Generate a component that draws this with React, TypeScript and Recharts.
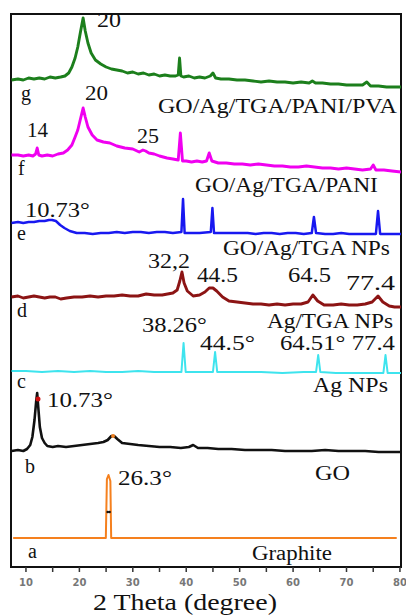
/* XRD patterns a–g, stacked with offsets */
import { ComposedChart, Line, XAxis, YAxis, ReferenceDot, ReferenceArea } from 'recharts';

// g: GO/Ag/TGA/PANI/PVA
const gTheta = [7.3, 8.5, 9.5, 10.5, 11.5, 12.5, 13.5, 14.5, 15.5, 16.5, 17.3, 18, 18.6, 19.2, 19.7, 20.2, 20.7, 21.1, 21.6, 22.2, 23, 24, 25, 26, 27, 28, 29, 30, 31, 32, 33, 34, 35, 36, 37, 38, 38.5, 38.75, 39, 39.5, 40.5, 41.5, 42.5, 43.5, 44.5, 45, 45.5, 46.5, 48, 49.5, 51, 52.5, 54, 55.5, 57, 58.5, 60, 61.5, 63, 63.6, 64.2, 65.5, 67, 68.5, 70, 71.5, 73, 73.8, 74.5, 76, 77.5, 79, 80.2];
const gCounts = [487, 488, 487, 489, 488, 489, 488, 490, 489, 490, 491, 494, 500, 509, 520, 535, 549, 536, 524, 514, 507, 503, 500, 498, 497, 496, 494, 495, 493, 494, 492, 493, 491, 492, 491, 491, 492, 509, 491, 490, 491, 489, 490, 489, 491, 494, 489, 488, 488, 487, 487, 486, 485, 486, 485, 485, 484, 485, 484, 486, 484, 484, 483, 483, 482, 482, 482, 485, 481, 481, 480, 480, 480];

// f: GO/Ag/TGA/PANI
const fTheta = [7.3, 8.5, 9.5, 10.5, 11.3, 11.8, 12.1, 12.4, 13, 14, 15, 16, 17, 17.8, 18.6, 19.2, 19.7, 20.2, 20.7, 21.1, 21.6, 22.4, 23.3, 24.5, 25.7, 27, 28.5, 30, 31.2, 31.9, 32.4, 33, 34, 35, 36.4, 37.5, 38.5, 38.9, 39.3, 40, 41, 42, 43, 43.8, 44.3, 44.8, 46, 47.5, 49, 50.5, 52, 53.5, 55, 56.5, 58, 59.5, 61, 62.5, 64, 65.5, 67, 68.5, 70, 71.5, 73, 74.5, 75, 75.5, 77, 78.5, 80.2];
const fCounts = [412, 412, 411, 412, 411, 413, 419, 412, 411, 412, 411, 413, 414, 417, 422, 430, 437, 448, 459, 450, 440, 432, 427, 425, 424, 421, 419, 418, 415, 417, 416, 414, 413, 411, 409, 408, 407, 434, 406, 406, 405, 406, 405, 406, 414, 406, 404, 404, 403, 403, 402, 403, 402, 401, 401, 400, 400, 401, 400, 399, 399, 398, 399, 398, 397, 398, 402, 397, 397, 396, 395];

// e: GO/Ag/TGA NPs
const eTheta = [7.3, 8.5, 9.5, 10.5, 11.5, 12.5, 13.5, 14.3, 14.9, 15.6, 16.4, 17.2, 18.2, 19.5, 21, 22.5, 24, 25.5, 27, 28.5, 30, 31.5, 33, 34.5, 36, 37.5, 39.1, 39.4, 39.7, 41, 42.5, 44.6, 44.9, 45.2, 47, 48.5, 50, 51.5, 53, 54.5, 56, 57.5, 59, 60.5, 62, 63.5, 63.9, 64.3, 66, 67.5, 69, 70.5, 72, 73.5, 75.5, 75.9, 76.3, 78, 80.2];
const eCounts = [344, 345, 344, 345, 345, 346, 346, 347, 347, 346, 342, 339, 336, 334, 334, 333, 334, 334, 335, 334, 335, 335, 334, 335, 335, 334, 335, 368, 334, 334, 334, 335, 359, 334, 334, 334, 334, 334, 333, 334, 334, 333, 334, 334, 333, 334, 350, 334, 333, 333, 334, 333, 333, 333, 333, 356, 333, 333, 333];

// d: Ag/TGA NPs
const dTheta = [7.3, 8.5, 9.5, 10.5, 11.5, 12.5, 13.5, 14.5, 15.5, 16.5, 17.6, 19, 20.5, 22, 23.5, 25, 26.5, 28, 29.5, 31, 32.5, 34, 35.5, 36.5, 37.5, 38.3, 38.8, 39.2, 39.6, 40.2, 41.3, 42.5, 43.5, 44.3, 45, 45.7, 46.8, 48, 49.5, 51, 52.5, 54, 55.5, 57, 58.5, 60, 61.5, 62.8, 63.7, 64.6, 65.8, 67.5, 69, 70.5, 72, 73.5, 74.8, 75.9, 76.8, 78, 79, 80.2];
const dCounts = [270, 271, 269, 270, 271, 270, 269, 270, 270, 268, 269, 270, 270, 271, 270, 271, 271, 272, 271, 271, 273, 272, 272, 273, 274, 277, 286, 295, 284, 276, 271, 272, 275, 279, 279, 276, 270, 266, 265, 264, 263, 263, 262, 263, 262, 263, 263, 265, 272, 266, 262, 262, 263, 262, 262, 263, 265, 271, 265, 261, 260, 260];

// c: Ag NPs
const cTheta = [7.3, 10, 13, 16, 19, 22, 25, 28, 31, 34, 37, 39.1, 39.5, 39.9, 42, 45, 45.4, 45.8, 50, 54, 58, 62, 64.3, 64.7, 65.1, 68, 72, 76.9, 77.3, 77.7, 80.2];
const cCounts = [196, 196, 195, 196, 195, 196, 195, 195, 196, 195, 195, 195, 224, 195, 195, 195, 215, 195, 195, 195, 194, 195, 195, 212, 195, 194, 194, 194, 212, 194, 194];

// b: GO
const bTheta = [7.3, 8.5, 9.5, 10.2, 10.8, 11.2, 11.6, 11.9, 12.1, 12.3, 12.6, 13, 13.5, 14, 15, 16, 17.5, 19, 20.5, 22, 23.5, 24.5, 25.3, 26, 26.5, 27.1, 28, 29.5, 31, 33, 35, 37, 39, 40.5, 41.3, 42.2, 44, 46, 48.5, 51, 53.5, 56, 58.5, 61, 63.5, 66, 68.5, 71, 73.5, 76, 78.5, 80.2];
const bCounts = [116, 117, 116, 118, 122, 130, 147, 165, 174, 160, 140, 129, 124, 121, 120, 121, 120, 121, 122, 123, 124, 125, 127, 131, 131, 128, 124, 123, 122, 121, 120, 120, 119, 120, 122, 119, 119, 118, 118, 117, 117, 117, 116, 116, 116, 117, 116, 116, 116, 115, 115, 115];

// a: Graphite
const aTheta = [7.6, 15, 24.95, 25.15, 25.45, 25.8, 25.95, 35, 50, 65, 79.4];
const aCounts = [29, 29, 29, 88, 92, 86, 29, 29, 29, 29, 29];

const tickValues = [10, 15, 20, 25, 30, 35, 40, 45, 50, 55, 60, 65, 70, 75, 80];

const toPoints = (theta: number[], counts: number[]) =>
  theta.map((t, i) => ({ theta: t, counts: counts[i] }));

const traces = [
  { id: 'g', points: toPoints(gTheta, gCounts), color: '#1c7f1c', width: 2.9 },
  { id: 'f', points: toPoints(fTheta, fCounts), color: '#f000f0', width: 2.9 },
  { id: 'e', points: toPoints(eTheta, eCounts), color: '#1818f0', width: 2.5 },
  { id: 'd', points: toPoints(dTheta, dCounts), color: '#8c1414', width: 2.9 },
  { id: 'c', points: toPoints(cTheta, cCounts), color: '#3ee4ee', width: 2 },
  { id: 'b', points: toPoints(bTheta, bCounts), color: '#111111', width: 2.6 },
  { id: 'a', points: toPoints(aTheta, aCounts), color: '#f5801e', width: 2 },
];

const SERIF = "'Liberation Serif', 'Times New Roman', serif";

function note(text: string, theta: number, level: number, width?: number, size = 20) {
  return (
    <ReferenceDot
      key={`${text}-${theta}-${level}`}
      x={theta} y={level} r={0} ifOverflow="visible"
      shape={(p: any) => (
        <text
          x={p.cx} y={p.cy} fontFamily={SERIF} fontSize={size} fill="#111"
          textLength={width} lengthAdjust={width ? 'spacingAndGlyphs' : undefined}
        >
          {text}
        </text>
      )}
    />
  );
}

export default function App() {
  return (
    <div style={{ position: 'absolute', left: 0, top: 0, background: '#fff' }}>
      <ComposedChart width={406} height={616} margin={{ top: 14, right: 5, bottom: 19, left: 11 }}>
        <XAxis
          dataKey="theta" type="number" domain={[7.2, 80.2]} ticks={tickValues}
          allowDataOverflow interval={0}
          tickFormatter={(v: number) => (v % 10 === 0 ? String(v) : '')}
          tick={{ fontSize: 10, fill: '#777', fontFamily: "'DejaVu Sans', sans-serif", fontWeight: 'bold' }}
          tickSize={5} tickMargin={7} height={30}
          tickLine={{ stroke: '#333', strokeWidth: 1.5 }}
          axisLine={{ stroke: '#111', strokeWidth: 2 }}
        />
        <YAxis hide type="number" domain={[0, 553]} allowDataOverflow />
        <ReferenceArea
          x1={7.2} x2={80.2} y1={0} y2={553} fill="none" fillOpacity={0}
          stroke="#111" strokeWidth={2} ifOverflow="visible"
        />

        {traces.map(t => (
          <Line
            key={t.id} data={t.points} dataKey="counts" type="linear"
            stroke={t.color} strokeWidth={t.width} dot={false}
            strokeLinejoin="round" isAnimationActive={false}
          />
        ))}

        {/* stray marks from the original figure */}
        <ReferenceDot x={12.25} y={168} r={2.5} fill="#d01010" stroke="none" />
        <ReferenceDot x={26.3} y={131} r={2} fill="#f08020" stroke="none" />
        <ReferenceDot x={25.3} y={55} r={1.3} fill="#111" stroke="none" />
        <ReferenceDot x={25.65} y={55} r={1.3} fill="#111" stroke="none" />

        {note('20', 23.29, 540, 24)}
        {note('g', 9.06, 467)}
        {note('20', 21.04, 467, 23)}
        {note('GO/Ag/TGA/PANI/PVA', 34.71, 454, 239)}
        {note('14', 10.19, 430, 21)}
        {note('25', 30.78, 424, 22)}
        {note('f', 8.5, 392)}
        {note('GO/Ag/TGA/PANI', 41.63, 375, 183)}
        {note('10.73°', 9.81, 350, 65)}
        {note('e', 8.32, 327)}
        {note('GO/Ag/TGA NPs', 46.87, 312, 167)}
        {note('32,2', 32.83, 299, 42)}
        {note('44.5', 42.0, 285, 41)}
        {note('64.5', 59.04, 285, 43)}
        {note('77.4', 69.89, 277, 49)}
        {note('d', 8.32, 250)}
        {note('Ag/TGA NPs', 55.11, 239, 126)}
        {note('38.26°', 31.71, 235, 65)}
        {note('44.5°', 42.57, 217, 55)}
        {note('64.51° 77.4', 57.54, 217, 115)}
        {note('c', 8.32, 179)}
        {note('Ag NPs', 63.72, 175, 75)}
        {note('10.73°', 13.93, 160, 66)}
        {note('b', 9.81, 94)}
        {note('GO', 64.09, 87, 35)}
        {note('26.3°', 27.22, 82, 54)}
        {note('a', 10.37, 9)}
        {note('Graphite', 52.3, 7, 80)}
        {note('2 Theta  (degree)', 22.54, -43, 184, 24)}
      </ComposedChart>
    </div>
  );
}
